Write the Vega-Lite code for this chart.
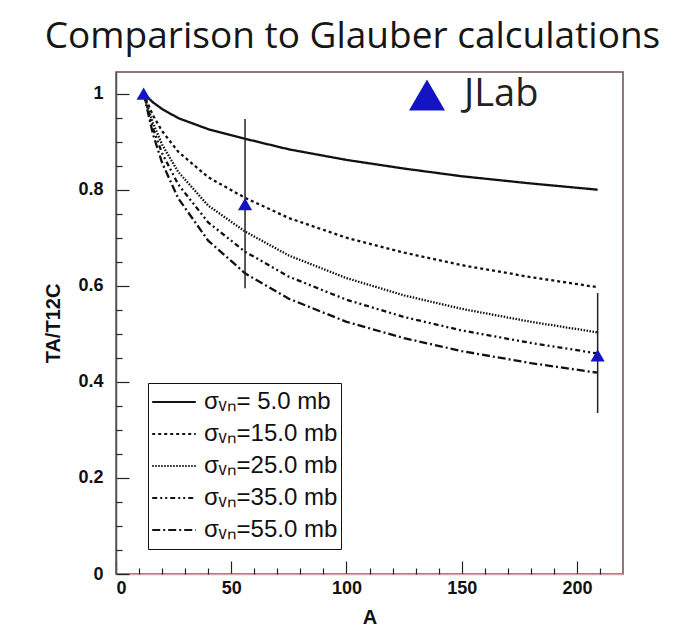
{
  "$schema": "https://vega.github.io/schema/vega-lite/v6.json",
  "width": 507,
  "height": 502,
  "autosize": {"type": "none"},
  "padding": {"left": 116, "top": 72, "right": 67, "bottom": 62},
  "background": "white",
  "title": {"text": "Comparison to Glauber calculations", "font": "Open Sans", "fontSize": 37, "fontWeight": "normal", "color": "#161616", "anchor": "middle", "frame": "group", "dx": -17, "offset": 16},
  "config": {
    "view": {"stroke": "#6b4f4f", "strokeWidth": 1.5},
    "axis": {"grid": false, "labelFont": "Liberation Sans", "labelFontWeight": "bold", "labelFontSize": 18, "labelColor": "#111", "titleFont": "Liberation Sans", "titleFontWeight": "bold", "titleFontSize": 20, "titleColor": "#111", "tickColor": "#222", "tickWidth": 1.2, "labelOverlap": false, "labelBound": false}
  },
  "resolve": {"axis": {"x": "independent", "y": "independent"}},
  "datasets": {
    "curves": [
      {"A": 12, "T": 1.0, "s": "σᵥₙ= 5.0 mb"}, {"A": 16, "T": 0.982, "s": "σᵥₙ= 5.0 mb"}, {"A": 20, "T": 0.968, "s": "σᵥₙ= 5.0 mb"}, {"A": 27, "T": 0.949, "s": "σᵥₙ= 5.0 mb"}, {"A": 40, "T": 0.926, "s": "σᵥₙ= 5.0 mb"}, {"A": 56, "T": 0.906, "s": "σᵥₙ= 5.0 mb"}, {"A": 75, "T": 0.884, "s": "σᵥₙ= 5.0 mb"}, {"A": 100, "T": 0.862, "s": "σᵥₙ= 5.0 mb"}, {"A": 125, "T": 0.844, "s": "σᵥₙ= 5.0 mb"}, {"A": 150, "T": 0.828, "s": "σᵥₙ= 5.0 mb"}, {"A": 180, "T": 0.813, "s": "σᵥₙ= 5.0 mb"}, {"A": 209, "T": 0.800, "s": "σᵥₙ= 5.0 mb"},
      {"A": 12, "T": 1.0, "s": "σᵥₙ=15.0 mb"}, {"A": 16, "T": 0.955, "s": "σᵥₙ=15.0 mb"}, {"A": 20, "T": 0.922, "s": "σᵥₙ=15.0 mb"}, {"A": 27, "T": 0.879, "s": "σᵥₙ=15.0 mb"}, {"A": 40, "T": 0.826, "s": "σᵥₙ=15.0 mb"}, {"A": 56, "T": 0.783, "s": "σᵥₙ=15.0 mb"}, {"A": 75, "T": 0.741, "s": "σᵥₙ=15.0 mb"}, {"A": 100, "T": 0.700, "s": "σᵥₙ=15.0 mb"}, {"A": 125, "T": 0.669, "s": "σᵥₙ=15.0 mb"}, {"A": 150, "T": 0.643, "s": "σᵥₙ=15.0 mb"}, {"A": 180, "T": 0.618, "s": "σᵥₙ=15.0 mb"}, {"A": 209, "T": 0.597, "s": "σᵥₙ=15.0 mb"},
      {"A": 12, "T": 1.0, "s": "σᵥₙ=25.0 mb"}, {"A": 16, "T": 0.939, "s": "σᵥₙ=25.0 mb"}, {"A": 20, "T": 0.894, "s": "σᵥₙ=25.0 mb"}, {"A": 27, "T": 0.837, "s": "σᵥₙ=25.0 mb"}, {"A": 40, "T": 0.767, "s": "σᵥₙ=25.0 mb"}, {"A": 56, "T": 0.713, "s": "σᵥₙ=25.0 mb"}, {"A": 75, "T": 0.663, "s": "σᵥₙ=25.0 mb"}, {"A": 100, "T": 0.616, "s": "σᵥₙ=25.0 mb"}, {"A": 125, "T": 0.580, "s": "σᵥₙ=25.0 mb"}, {"A": 150, "T": 0.552, "s": "σᵥₙ=25.0 mb"}, {"A": 180, "T": 0.525, "s": "σᵥₙ=25.0 mb"}, {"A": 209, "T": 0.503, "s": "σᵥₙ=25.0 mb"},
      {"A": 12, "T": 1.0, "s": "σᵥₙ=35.0 mb"}, {"A": 16, "T": 0.928, "s": "σᵥₙ=35.0 mb"}, {"A": 20, "T": 0.876, "s": "σᵥₙ=35.0 mb"}, {"A": 27, "T": 0.811, "s": "σᵥₙ=35.0 mb"}, {"A": 40, "T": 0.732, "s": "σᵥₙ=35.0 mb"}, {"A": 56, "T": 0.671, "s": "σᵥₙ=35.0 mb"}, {"A": 75, "T": 0.619, "s": "σᵥₙ=35.0 mb"}, {"A": 100, "T": 0.571, "s": "σᵥₙ=35.0 mb"}, {"A": 125, "T": 0.535, "s": "σᵥₙ=35.0 mb"}, {"A": 150, "T": 0.507, "s": "σᵥₙ=35.0 mb"}, {"A": 180, "T": 0.481, "s": "σᵥₙ=35.0 mb"}, {"A": 209, "T": 0.459, "s": "σᵥₙ=35.0 mb"},
      {"A": 12, "T": 1.0, "s": "σᵥₙ=55.0 mb"}, {"A": 16, "T": 0.916, "s": "σᵥₙ=55.0 mb"}, {"A": 20, "T": 0.856, "s": "σᵥₙ=55.0 mb"}, {"A": 27, "T": 0.782, "s": "σᵥₙ=55.0 mb"}, {"A": 40, "T": 0.694, "s": "σᵥₙ=55.0 mb"}, {"A": 56, "T": 0.626, "s": "σᵥₙ=55.0 mb"}, {"A": 75, "T": 0.573, "s": "σᵥₙ=55.0 mb"}, {"A": 100, "T": 0.525, "s": "σᵥₙ=55.0 mb"}, {"A": 125, "T": 0.491, "s": "σᵥₙ=55.0 mb"}, {"A": 150, "T": 0.464, "s": "σᵥₙ=55.0 mb"}, {"A": 180, "T": 0.439, "s": "σᵥₙ=55.0 mb"}, {"A": 209, "T": 0.419, "s": "σᵥₙ=55.0 mb"}
    ],
    "jlab": [
      {"A": 12, "T": 1.0, "lo": null, "hi": null, "src": "JLab"},
      {"A": 56, "T": 0.77, "lo": 0.595, "hi": 0.947, "src": "JLab"},
      {"A": 209, "T": 0.455, "lo": 0.335, "hi": 0.585, "src": "JLab"}
    ]
  },
  "layer": [
    {
      "data": {"name": "curves"},
      "mark": {"type": "line", "color": "#111", "strokeWidth": 2.3},
      "encoding": {
        "x": {"field": "A", "type": "quantitative", "scale": {"domain": [0, 220], "nice": false, "zero": false},
          "axis": {"title": "A", "values": [0, 50, 100, 150, 200], "format": "d", "tickSize": -13,
            "labelPadding": 18, "domainColor": "#d7a3a3", "domainWidth": 1.5, "titlePadding": 10}},
        "y": {"field": "T", "type": "quantitative", "scale": {"domain": [0, 1.045], "nice": false},
          "axis": {"title": "TA/T12C", "values": [0, 0.2, 0.4, 0.6, 0.8, 1.0], "format": ".1~f", "tickSize": -13,
            "labelPadding": 26, "domainColor": "#555", "domainWidth": 1.5, "titlePadding": 14}},
        "strokeDash": {"field": "s", "type": "nominal",
          "scale": {"domain": ["σᵥₙ= 5.0 mb", "σᵥₙ=15.0 mb", "σᵥₙ=25.0 mb", "σᵥₙ=35.0 mb", "σᵥₙ=55.0 mb"], "range": [[1,0],[3,3],[1.5,1.5],[5,3,2,3,2,3],[8,3,2,3]]},
          "legend": {"orient": "none", "legendX": 32, "legendY": 311, "title": null, "symbolType": "stroke", "symbolSize": 1900, "symbolStrokeWidth": 2, "symbolStrokeColor": "#111", "labelFont": "Liberation Sans", "labelFontSize": 24, "labelColor": "#111", "strokeColor": "#111", "fillColor": "white", "padding": 3, "rowPadding": 0, "clipHeight": 32, "labelOffset": 7}}
      }
    },
    {
      "data": {"name": "jlab"},
      "mark": {"type": "rule", "color": "#222", "strokeWidth": 1.5},
      "encoding": {
        "x": {"field": "A", "type": "quantitative",
          "axis": {"orient": "bottom", "title": null, "labels": false, "domain": false, "tickSize": -6,
            "values": [10,20,30,40,60,70,80,90,110,120,130,140,160,170,180,190,210]}},
        "y": {"field": "lo", "type": "quantitative",
          "axis": {"orient": "left", "title": null, "labels": false, "domain": false, "tickSize": -6,
            "values": [0.05,0.1,0.15,0.25,0.3,0.35,0.45,0.5,0.55,0.65,0.7,0.75,0.85,0.9,0.95]}},
        "y2": {"field": "hi"}
      }
    },
    {
      "data": {"name": "jlab"},
      "mark": {"type": "point", "filled": true, "opacity": 1, "color": "#1414c4"},
      "encoding": {
        "x": {"field": "A", "type": "quantitative", "axis": null},
        "y": {"field": "T", "type": "quantitative", "axis": null},
        "size": {"value": 200},
        "shape": {"field": "src", "type": "nominal", "scale": {"range": ["triangle-up"]},
          "legend": {"orient": "none", "legendX": 292, "legendY": 4, "title": null, "symbolSize": 1300, "symbolFillColor": "#1414c4", "labelFont": "Open Sans", "labelFontSize": 38, "labelColor": "#222", "labelOffset": 18}}
      }
    }
  ]
}
